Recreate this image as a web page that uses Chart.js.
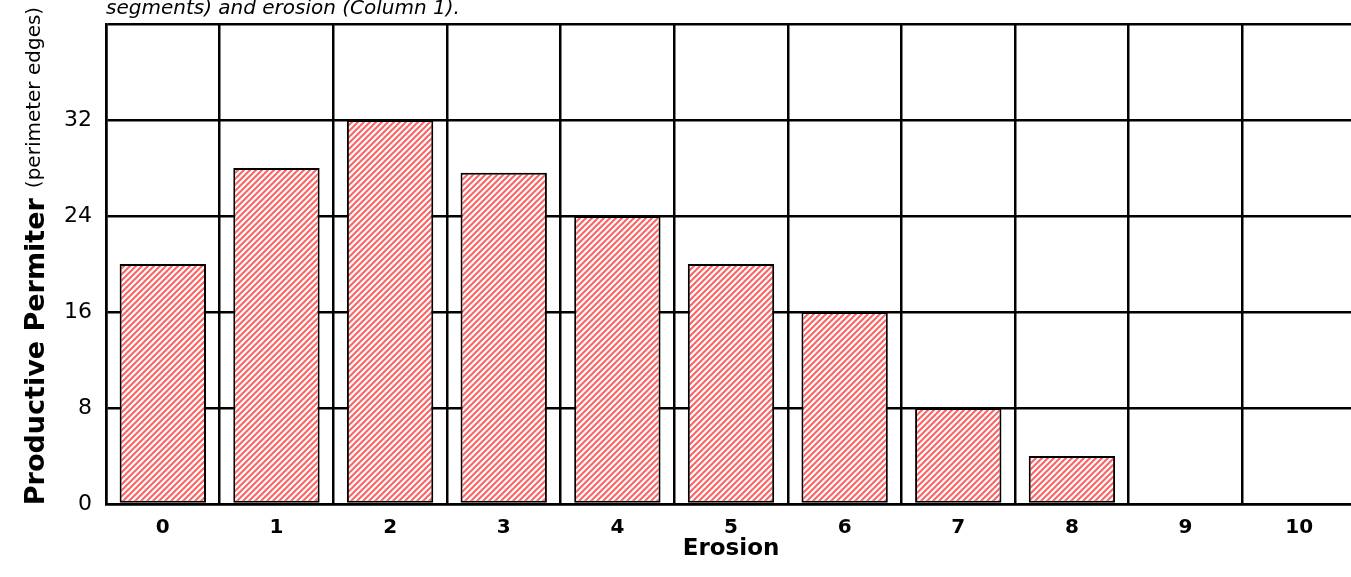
<!DOCTYPE html>
<html>
<head>
<meta charset="utf-8">
<script src="https://cdn.jsdelivr.net/npm/chart.js@4/dist/chart.umd.min.js"></script>
<style>
  html, body { margin: 0; padding: 0; background: #fff; overflow: hidden; }
  #wrap { width: 1356px; height: 577px; }
</style>
</head>
<body>
<div id="wrap"><canvas id="erosionChart"></canvas></div>
<script>
const erosionLevels = ['0', '1', '2', '3', '4', '5', '6', '7', '8', '9', '10'];
const perimeterValues = [20, 28, 32, 27.6, 24, 20, 16, 8, 4, 0, 0];
const yMax = 40;
const yStep = 8;
const titleLine = 'segments) and erosion (Column 1).';
const yTitleMain = 'Productive Permiter';
const yTitleSub = '(perimeter edges)';

const FONT = '"DejaVu Sans", "Noto Sans", sans-serif';

// red diagonal hatch
function makeHatch() {
    const c = document.createElement('canvas');
    c.width = 6; c.height = 6;
    const g = c.getContext('2d');
    g.fillStyle = '#ffffff';
    g.fillRect(0, 0, 6, 6);
    g.strokeStyle = 'rgba(255,30,30,0.7)';
    g.lineWidth = 2;
    g.beginPath();
    g.moveTo(-1, 7); g.lineTo(7, -1);
    g.moveTo(-4, 4); g.lineTo(4, -4);
    g.moveTo(2, 10); g.lineTo(10, 2);
    g.stroke();
    return g.createPattern(c, 'repeat');
}

const extraText = {
    id: 'extraText',
    afterDraw(chart) {
        const ctx = chart.ctx;
        const area = chart.chartArea;
        ctx.save();
        ctx.fillStyle = '#000';
        ctx.textBaseline = 'alphabetic';
        ctx.textAlign = 'left';
        ctx.font = 'italic 20px ' + FONT;
        ctx.fillText(titleLine, area.left, 14);

        // rotated y title, bold part then small part
        ctx.translate(37, 256);
        ctx.rotate(-Math.PI / 2);
        ctx.textBaseline = 'middle';
        ctx.font = 'bold 27px ' + FONT;
        const w1 = ctx.measureText(yTitleMain).width;
        ctx.font = '20px ' + FONT;
        const w2 = ctx.measureText(yTitleSub).width;
        const gap = 10;
        let x = -(w1 + gap + w2) / 2;
        ctx.font = 'bold 27px ' + FONT;
        ctx.fillText(yTitleMain, x, 0);
        ctx.font = '20px ' + FONT;
        ctx.fillText(yTitleSub, x + w1 + gap, -2);
        ctx.restore();
    }
};

const ctx = document.getElementById('erosionChart');

new Chart(ctx, {
    type: 'bar',
    data: {
        labels: erosionLevels,
        datasets: [{
            data: perimeterValues,
            backgroundColor: makeHatch(),
            borderColor: '#000',
            borderWidth: 2,
            borderSkipped: false,
            barPercentage: 0.76,
            categoryPercentage: 1
        }]
    },
    options: {
        responsive: true,
        maintainAspectRatio: false,
        animation: false,
        layout: { padding: { top: 24, right: 0, left: 0, bottom: 0 } },
        plugins: {
            legend: { display: false },
            tooltip: { enabled: false }
        },
        scales: {
            x: {
                afterFit(scale) { scale.height = 73; },
                grid: { color: '#000', lineWidth: 2.5, drawTicks: false, offset: true },
                border: { color: '#000', width: 2.5 },
                ticks: {
                    color: '#000',
                    padding: 12,
                    font: { family: FONT, size: 20, weight: 'bold' }
                },
                title: {
                    display: true,
                    text: 'Erosion',
                    color: '#000',
                    padding: { top: 4, bottom: 14 },
                    font: { family: FONT, size: 23, weight: 'bold' }
                }
            },
            y: {
                min: 0,
                max: yMax,
                afterFit(scale) {
                    scale.width = 106;
                    scale.paddingTop = 0;
                    scale.paddingBottom = 0;
                },
                grid: { color: '#000', lineWidth: 2.5, drawTicks: false },
                border: { color: '#000', width: 2.5 },
                ticks: {
                    stepSize: yStep,
                    color: '#000',
                    padding: 14,
                    font: { family: FONT, size: 22 },
                    callback: (v) => (v === yMax ? '' : v)
                }
            }
        }
    },
    plugins: [extraText]
});
</script>
</body>
</html>
